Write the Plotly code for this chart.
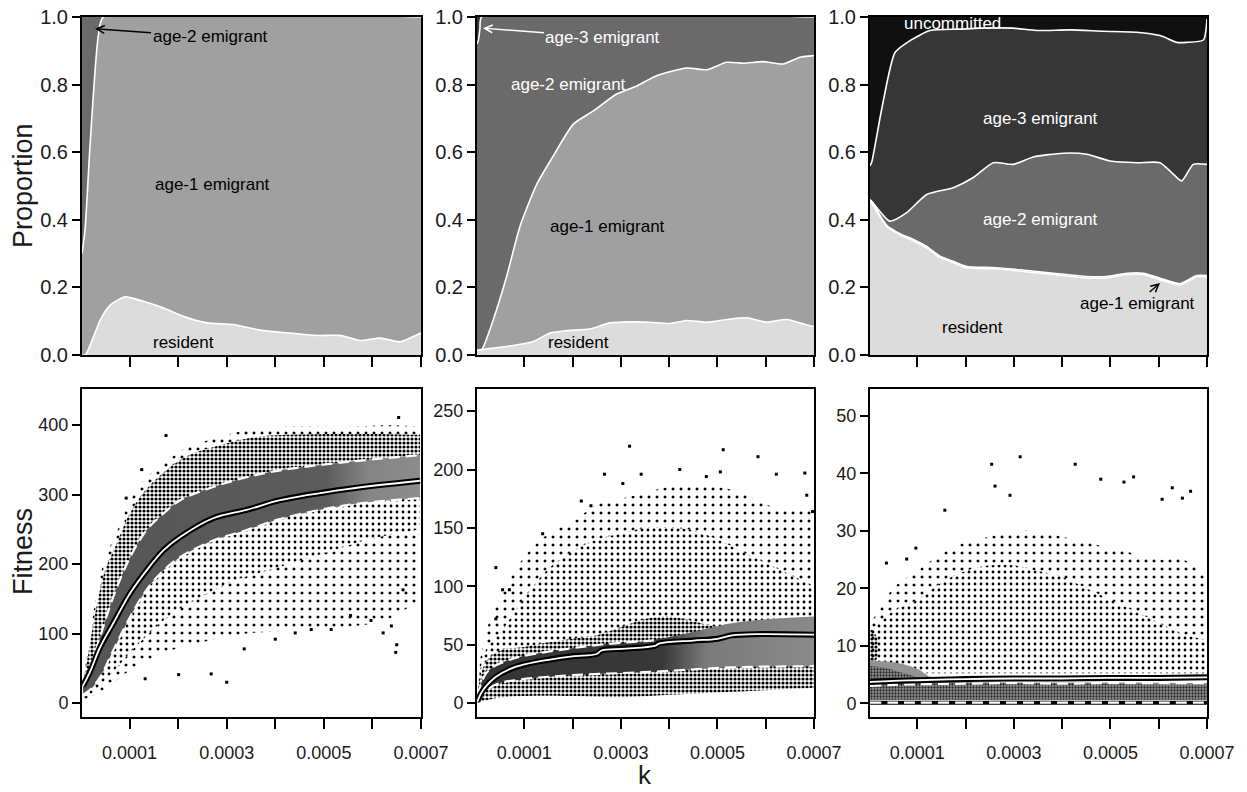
import plotly.graph_objects as go

# ---------------- axes / ticks ----------------
K_MIN, K_MAX = 0.000002, 0.0007
X_TICKS = [0.0001, 0.0002, 0.0003, 0.0004, 0.0005, 0.0006, 0.0007]
X_TICKTEXT = ["0.0001", "", "0.0003", "", "0.0005", "", "0.0007"]
P_TICKS = [0.0, 0.2, 0.4, 0.6, 0.8, 1.0]
P_TICKTEXT = ["0.0", "0.2", "0.4", "0.6", "0.8", "1.0"]
FIT_TICKS_A = [0, 100, 200, 300, 400]
FIT_TICKS_B = [0, 50, 100, 150, 200, 250]
FIT_TICKS_C = [0, 10, 20, 30, 40, 50]

# ---------------- top row: proportions (cumulative upper boundaries) ----------------
# panel A
A_k_resident = [0.000002, 0.000009, 0.00004, 0.000061, 0.000091, 0.000128, 0.00017, 0.000209, 0.00026, 0.000313,
                0.000375, 0.000431, 0.000486, 0.000533, 0.000575, 0.000616, 0.000657, 0.000692, 0.0007]
A_resident_top = [0.0, 0.0, 0.105, 0.149, 0.172, 0.159, 0.139, 0.115, 0.095, 0.090,
                  0.072, 0.065, 0.058, 0.058, 0.043, 0.050, 0.039, 0.060, 0.065]
A_k_age1 = [0.000002, 0.0000082, 0.0000185, 0.0000288, 0.0000356, 0.000046, 0.0007]
A_age1_top = [0.30, 0.37, 0.62, 0.84, 0.945, 1.0, 1.0]

# panel B
B_k_resident = [0.000002, 0.0000117, 0.0000772, 0.0001186, 0.0001532, 0.0001878, 0.000236, 0.0002775, 0.0003189,
                0.0003603, 0.0004017, 0.0004363, 0.0004778, 0.0005192, 0.0005606, 0.000602, 0.0006434, 0.0006952, 0.0007]
B_resident_top = [0.014, 0.016, 0.028, 0.04, 0.065, 0.072, 0.077, 0.095, 0.098,
                  0.097, 0.093, 0.102, 0.097, 0.105, 0.110, 0.097, 0.105, 0.085, 0.085]
B_k_age1 = [0.000002, 0.0000117, 0.0000358, 0.0000635, 0.0000911, 0.0001257, 0.00016, 0.0002015, 0.0002429, 0.0002914,
            0.0003328, 0.0003742, 0.0004363, 0.0004778, 0.0005192, 0.0005536, 0.000595, 0.0006364, 0.000671, 0.0006952, 0.0007]
B_age1_top = [0.014, 0.016, 0.105, 0.233, 0.381, 0.505, 0.589, 0.683, 0.722, 0.772,
              0.796, 0.826, 0.849, 0.844, 0.866, 0.863, 0.868, 0.861, 0.881, 0.885, 0.886]
B_k_age2 = [0.000002, 0.0000047, 0.000008, 0.0000117, 0.0007]
B_age2_top = [0.92, 0.93, 0.965, 1.0, 1.0]

# panel C
C_k_resident = [0.000002, 0.0000055, 0.0000366, 0.0000641, 0.0000917, 0.0001194, 0.000147, 0.0001745, 0.0002023,
                0.0002574, 0.0003127, 0.0003817, 0.0004508, 0.0004922, 0.0005337, 0.0005681, 0.0006027, 0.0006441,
                0.0006787, 0.0007]
C_resident_top = [0.455, 0.45, 0.38, 0.355, 0.338, 0.317, 0.288, 0.273, 0.258,
                  0.255, 0.248, 0.238, 0.228, 0.228, 0.238, 0.238, 0.223, 0.207, 0.231, 0.231]
C_age1_top = [0.457, 0.453, 0.384, 0.359, 0.342, 0.321, 0.292, 0.277, 0.262,
              0.259, 0.252, 0.242, 0.232, 0.232, 0.242, 0.242, 0.227, 0.211, 0.235, 0.235]
C_k_age2 = [0.000002, 0.0000055, 0.0000434, 0.000078, 0.0001194, 0.0001745, 0.000216, 0.0002574, 0.0002988,
            0.0003402, 0.0004024, 0.0004508, 0.0004991, 0.0005544, 0.0006027, 0.0006302, 0.0006476, 0.0006716, 0.0007]
C_age2_top = [0.46, 0.455, 0.396, 0.421, 0.475, 0.495, 0.525, 0.569, 0.564,
              0.586, 0.597, 0.594, 0.574, 0.569, 0.569, 0.535, 0.515, 0.564, 0.564]
C_k_age3 = [0.000002, 0.0000055, 0.0000262, 0.0000538, 0.0000849, 0.0001263, 0.0001884, 0.0002298, 0.0002988,
            0.0003472, 0.0004162, 0.0004852, 0.0005544, 0.0006027, 0.0006373, 0.000658, 0.0006924, 0.0007]
C_age3_top = [0.56, 0.57, 0.727, 0.895, 0.93, 0.96, 0.964, 0.967, 0.967,
              0.96, 0.962, 0.958, 0.955, 0.945, 0.925, 0.925, 0.932, 0.994]

COL_RESIDENT = "#dcdcdc"
COL_AGE1 = "#a0a0a0"
COL_AGE2 = "#6a6a6a"
COL_AGE3 = "#363636"
COL_UNCOMMITTED = "#101010"

# ---------------- bottom row: fitness ----------------
# panel D
D_k = [0.000004, 0.0000185, 0.000039, 0.0000664, 0.000101, 0.000135, 0.00017, 0.000204, 0.000272, 0.000341,
       0.00041, 0.000548, 0.000698]
D_median = [25, 45, 80, 115, 158, 191, 220, 239, 266, 278, 292, 308, 320]
D_q_hi = [30, 52, 95, 153, 210, 249, 273, 292, 311, 325, 335, 347, 357]
D_q_lo = [12, 19, 37, 76, 124, 163, 191, 210, 234, 249, 265, 285, 295]
D_k_env = [0.000004, 0.000012, 0.00003, 0.00005, 0.00007, 0.0001, 0.00013, 0.00017, 0.00022, 0.00028, 0.00035,
           0.00042, 0.00049, 0.00056, 0.00063, 0.000698]
D_cloud_hi = [30, 66, 148, 210, 240, 290, 320, 345, 368, 382, 394, 398, 398, 398, 400, 398]
D_dense_hi = [28, 58, 132, 192, 224, 272, 304, 332, 356, 370, 382, 386, 387, 387, 387, 386]
D_k_lo = [0.000004, 0.00003, 0.000066, 0.0001, 0.00017, 0.00024, 0.00034, 0.00045, 0.00055, 0.00063, 0.000698]
D_cloud_lo = [4, 12, 29, 47, 72, 86, 100, 105, 110, 120, 150]
D_k_mid = [0.000004, 0.00003, 0.00007, 0.0001, 0.00014, 0.00018, 0.00024, 0.00031, 0.00038, 0.00045, 0.00052,
           0.00059, 0.00066, 0.000698]
D_mid_lo = [8, 18, 48, 72, 100, 125, 150, 175, 190, 205, 220, 235, 245, 250]
D_out_k = [0.000175, 0.0003, 0.000268, 0.000201, 0.000132, 0.000654, 0.00065, 0.000648, 0.000622, 0.000597,
           0.000555, 0.0004, 0.000336, 0.000515, 0.000474, 0.000441, 0.000639, 0.000663, 0.000125, 0.000093]
D_out_fit = [385, 30, 42, 41, 35, 411, 84, 73, 101, 119, 126, 92, 78, 106, 106, 101, 111, 163, 336, 295]

# panel E
E_k_med = [0.000003, 0.00001, 0.00002, 0.00004, 0.00007, 0.0001, 0.00015, 0.0002, 0.00025, 0.00026, 0.00031,
           0.00037, 0.00038, 0.00045, 0.0005, 0.00053, 0.00059, 0.0007]
E_median = [1.5, 8, 14, 22, 29, 33, 37, 40, 42, 45, 46.5, 49, 51, 53.5, 55, 58, 59, 58.5]
E_k_qhi = [0.000003, 0.00002, 0.00004, 0.00007, 0.0001, 0.00015, 0.0002, 0.00027, 0.00035, 0.00038]
E_q_hi = [6, 25, 32, 37, 40.5, 44, 47, 50.5, 53, 54]
E_k_qlo = [0.000003, 0.000015, 0.000045, 0.00009, 0.00015, 0.00022, 0.0003, 0.00037, 0.00044, 0.00051, 0.00058, 0.0007]
E_q_lo = [2, 9, 16.5, 20, 22.5, 24.3, 25.6, 26.8, 28.5, 30.2, 31, 31.5]
E_k_band = [0.000003, 0.00002, 0.00004, 0.00007, 0.0001, 0.00015, 0.0002, 0.00027, 0.00035, 0.00038, 0.00044,
            0.00054, 0.0007]
E_band_hi = [6, 25, 32, 37, 40.5, 44, 47, 50.5, 53, 55, 60, 69, 74]
E_k_dlo = [0.000003, 0.00004, 0.0001, 0.0002, 0.0003, 0.0004, 0.0005, 0.0006, 0.0007]
E_dense_lo = [0, 4, 6, 6, 5, 7, 9, 11, 13]
E_k_dhi = [0.000003, 0.00002, 0.00005, 0.0001, 0.00015, 0.0002, 0.00025, 0.0003, 0.00035, 0.0004, 0.00045,
           0.0005, 0.0006, 0.0007]
E_dense_hi = [8, 35, 45, 48, 52, 55, 58, 65, 72, 74, 70, 65, 60, 60]
E_k_env = [0.000003, 0.00002, 0.00005, 0.0001, 0.00015, 0.0002, 0.00025, 0.0003, 0.00035, 0.0004, 0.00045,
           0.0005, 0.00055, 0.0006, 0.00065, 0.0007]
E_cloud_hi = [20, 60, 90, 125, 145, 155, 170, 175, 180, 185, 185, 185, 180, 170, 165, 165]
E_mid_hi = [12, 45, 60, 90, 115, 130, 140, 145, 150, 150, 148, 140, 130, 120, 110, 100]
E_out_k = [0.000318, 0.000512, 0.000584, 0.000422, 0.000266, 0.000342, 0.000506, 0.000622, 0.000681, 0.000304,
           0.000477, 0.000041, 0.000055, 0.000069, 0.000041, 0.000685, 0.000697, 0.000138, 0.000218, 0.000238]
E_out_fit = [220, 217, 211, 200, 196, 196, 198, 196, 197, 188, 194, 116, 97, 97, 72, 178, 164, 145, 173, 169]

# panel F
F_k = [0.000002, 0.00005, 0.0001, 0.0002, 0.0003, 0.0004, 0.0005, 0.0006, 0.0007]
F_median = [3.7, 3.9, 4.0, 4.2, 4.3, 4.3, 4.4, 4.4, 4.5]
F_q_hi = [3.0, 3.2, 3.3, 3.4, 3.5, 3.4, 3.5, 3.5, 3.5]
F_q_lo = [0.1, 0.1, 0.1, 0.1, 0.1, 0.1, 0.1, 0.1, 0.1]
F_k_band = [0.000002, 0.00003, 0.00006, 0.0001, 0.00013, 0.0002, 0.0004, 0.00055, 0.0007]
F_band_hi = [7.5, 7.3, 7.0, 6.0, 4.5, 3.8, 3.6, 3.6, 3.5]
F_band_lo = [0.6, 0.6, 0.6, 0.6, 0.6, 0.6, 0.6, 0.6, 0.6]
F_dense_hi = [6.5, 6.2, 5.5, 4.5, 3.8, 3.6, 3.5, 3.3, 3.2]
F_k_env = [0.000002, 0.00002, 0.00005, 0.0001, 0.00015, 0.0002, 0.00025, 0.0003, 0.00035, 0.0004, 0.00045,
           0.0005, 0.00055, 0.0006, 0.00065, 0.0007]
F_cloud_hi = [14, 16, 20, 23, 26, 28, 29, 30, 30, 29, 28, 27, 26, 25, 25, 22]
F_mid_hi = [12, 14, 16, 18, 21, 23, 24, 24, 23, 22, 20, 18, 16, 14, 12, 11]
F_mid_lo = [5.2, 5.2, 5.2, 5.2, 5.2, 5.2, 5.2, 5.2, 5.2, 5.2, 5.2, 5.2, 5.2, 5.2, 5.2, 5.2]
F_k_clump = [0.000002, 0.00001, 0.000018]
F_clump_lo = [6.5, 7, 8]
F_clump_hi = [13, 12.5, 11]
F_out_k = [0.000254, 0.000313, 0.000427, 0.00048, 0.000528, 0.000548, 0.000628, 0.000666, 0.000261, 0.000292,
           0.000157, 0.000097, 0.000036, 0.000078, 0.000607, 0.000649]
F_out_fit = [41.6, 42.9, 41.6, 39, 38.5, 39.4, 37.5, 36.9, 37.8, 36.2, 33.6, 27, 24.4, 25.1, 35.5, 35.7]

FONT = "Liberation Sans, Arial, sans-serif"
SPARSE = dict(shape=".", size=8, solidity=0.11, fgcolor="black", bgcolor="rgba(0,0,0,0)", fillmode="replace")
MEDIUM = dict(shape=".", size=6, solidity=0.18, fgcolor="black", bgcolor="rgba(0,0,0,0)", fillmode="replace")
DENSE = dict(shape=".", size=4, solidity=0.5, fgcolor="black", bgcolor="rgba(0,0,0,0)", fillmode="replace")
DARKDENSE = dict(shape=".", size=3, solidity=0.45, fgcolor="#262626", bgcolor="rgba(0,0,0,0)", fillmode="replace")

fig = go.Figure()


def line_tr(x, y, xa, ya, **kw):
    d = dict(x=x, y=y, mode="lines", xaxis=xa, yaxis=ya, hoverinfo="skip", showlegend=False)
    d.update(kw)
    fig.add_trace(go.Scatter(**d))


SPL = dict(shape="spline", smoothing=0.6)


def stack_panel(xa, ya, bounds, colors):
    for i, (k, top) in enumerate(bounds):
        line_tr(k, top, xa, ya, line=dict(width=0, **SPL),
                fill="tozeroy" if i == 0 else "tonexty", fillcolor=colors[i])
    line_tr([K_MIN, K_MAX], [1, 1], xa, ya, line=dict(width=0), fill="tonexty", fillcolor=colors[-1])
    for k, top in bounds:
        line_tr(k, top, xa, ya, line=dict(color="white", width=1.6, **SPL))


stack_panel("x", "y", [(A_k_resident, A_resident_top), (A_k_age1, A_age1_top)],
            [COL_RESIDENT, COL_AGE1, COL_AGE2])
stack_panel("x2", "y2", [(B_k_resident, B_resident_top), (B_k_age1, B_age1_top), (B_k_age2, B_age2_top)],
            [COL_RESIDENT, COL_AGE1, COL_AGE2, COL_AGE3])
stack_panel("x3", "y3", [(C_k_resident, C_resident_top), (C_k_resident, C_age1_top), (C_k_age2, C_age2_top),
                         (C_k_age3, C_age3_top)],
            [COL_RESIDENT, COL_AGE1, COL_AGE2, COL_AGE3, COL_UNCOMMITTED])


def region(xa, ya, klo, lo, khi, hi, **fillkw):
    line_tr(klo, lo, xa, ya, line=dict(width=0, shape="spline"))
    line_tr(khi, hi, xa, ya, line=dict(width=0, shape="spline"), fill="tonexty", **fillkw)


def fit_lines(xa, ya, kmed, med, kqhi, qhi, kqlo, qlo, lo_black=False):
    if lo_black:
        line_tr(kqlo, qlo, xa, ya, line=dict(color="black", width=4, shape="spline"))
    line_tr(kqlo, qlo, xa, ya, line=dict(color="white", width=2.2, dash="11px,6px", shape="spline"))
    line_tr(kqhi, qhi, xa, ya, line=dict(color="white", width=2.2, dash="11px,6px", shape="spline"))
    line_tr(kmed, med, xa, ya, line=dict(color="black", width=6, shape="spline"))
    line_tr(kmed, med, xa, ya, line=dict(color="white", width=1.8, shape="spline"))


def outliers(xa, ya, k, f):
    fig.add_trace(go.Scatter(x=k, y=f, mode="markers", xaxis=xa, yaxis=ya, hoverinfo="skip", showlegend=False,
                             marker=dict(color="black", size=3, symbol="square")))


NOFILL = "rgba(0,0,0,0)"
# panel D (non-overlapping density zones)
region("x4", "y4", D_k_env, D_dense_hi, D_k_env, D_cloud_hi, fillcolor=NOFILL, fillpattern=SPARSE)
region("x4", "y4", D_k, D_q_hi, D_k_env, D_dense_hi, fillcolor=NOFILL, fillpattern=DENSE)
region("x4", "y4", D_k_mid, D_mid_lo, D_k, D_q_lo, fillcolor=NOFILL, fillpattern=MEDIUM)
region("x4", "y4", D_k_lo, D_cloud_lo, D_k_mid, D_mid_lo, fillcolor=NOFILL, fillpattern=SPARSE)
region("x4", "y4", D_k, D_q_lo, D_k, D_q_hi, fillcolor="#5a5a5a",
       fillgradient=dict(type="horizontal", colorscale=[[0, "#555555"], [0.72, "#5c5c5c"], [0.85, "#858585"], [1, "#8c8c8c"]]))
fit_lines("x4", "y4", D_k, D_median, D_k, D_q_hi, D_k, D_q_lo)
outliers("x4", "y4", D_out_k, D_out_fit)

# panel E
region("x5", "y5", E_k_env, E_mid_hi, E_k_env, E_cloud_hi, fillcolor=NOFILL, fillpattern=SPARSE)
region("x5", "y5", E_k_dhi, E_dense_hi, E_k_env, E_mid_hi, fillcolor=NOFILL, fillpattern=MEDIUM)
region("x5", "y5", E_k_dlo, E_dense_lo, E_k_dhi, E_dense_hi, fillcolor=NOFILL, fillpattern=DENSE)
region("x5", "y5", E_k_qlo, E_q_lo, E_k_band, E_band_hi, fillcolor="#3a3a3a",
       fillgradient=dict(type="horizontal", colorscale=[[0, "#353535"], [0.55, "#383838"], [0.68, "#7a7a7a"], [1, "#8a8a8a"]]))
fit_lines("x5", "y5", E_k_med, E_median, E_k_qhi, E_q_hi, E_k_qlo, E_q_lo)
outliers("x5", "y5", E_out_k, E_out_fit)

# panel F
region("x6", "y6", F_k_env, F_mid_hi, F_k_env, F_cloud_hi, fillcolor=NOFILL, fillpattern=SPARSE)
region("x6", "y6", F_k_env, F_mid_lo, F_k_env, F_mid_hi, fillcolor=NOFILL, fillpattern=MEDIUM)
region("x6", "y6", F_k_clump, F_clump_lo, F_k_clump, F_clump_hi, fillcolor=NOFILL, fillpattern=DENSE)
region("x6", "y6", F_k_band, F_band_lo, F_k_band, F_band_hi, fillcolor="#939393")
region("x6", "y6", F_k_band, F_band_lo, F_k_band, F_dense_hi, fillcolor=NOFILL, fillpattern=DARKDENSE)
fit_lines("x6", "y6", F_k, F_median, F_k, F_q_hi, F_k, F_q_lo, lo_black=True)
outliers("x6", "y6", F_out_k, F_out_fit)

# ---------------- layout ----------------
W, H = 1247, 792
XDOM = [(82 / W, 421 / W), (477 / W, 814 / W), (870 / W, 1207 / W)]
YDOM_TOP = ((792 - 355) / H, (792 - 17) / H)
YDOM_BOT = ((792 - 717) / H, (792 - 389) / H)

axis_common = dict(showgrid=False, zeroline=False, showline=True, linecolor="black", linewidth=2, mirror=True,
                   ticks="outside", tickwidth=2, tickcolor="black", automargin=False,
                   tickfont=dict(family=FONT, size=18, color="#1a1a1a"))

layout = dict(width=W, height=H, autosize=False, margin=dict(l=0, r=0, t=0, b=0, pad=0),
              paper_bgcolor="white", plot_bgcolor="white", showlegend=False)

y_ranges = [[-20, 452], [-12, 269], [-2.4, 54.7]]
y_ticks = [FIT_TICKS_A, FIT_TICKS_B, FIT_TICKS_C]
for i in range(6):
    n = "" if i == 0 else str(i + 1)
    col = i % 3
    top = i < 3
    xa = dict(axis_common, domain=XDOM[col], range=[K_MIN, K_MAX], tickvals=X_TICKS, ticklen=10,
              anchor="y" + n)
    if top:
        xa.update(showticklabels=False)
    else:
        xa.update(ticktext=X_TICKTEXT, ticklabelstandoff=8)
    ya = dict(axis_common, domain=YDOM_TOP if top else YDOM_BOT, anchor="x" + n, ticklen=8)
    if top:
        ya.update(range=[0, 1], tickvals=P_TICKS, ticktext=P_TICKTEXT,
                  tickfont=dict(family=FONT, size=20, color="#1a1a1a"))
    else:
        ya.update(range=y_ranges[col], tickvals=y_ticks[col])
    layout["xaxis" + n] = xa
    layout["yaxis" + n] = ya

fig.update_layout(**layout)


def label(text, x, y, xref, yref, color="black"):
    fig.add_annotation(text=text, x=x, y=y, xref=xref, yref=yref, showarrow=False,
                       xanchor="center", yanchor="middle",
                       font=dict(family=FONT, size=17, color=color))


def arrow_label(text, x, y, xref, yref, ax, ay, color="black"):
    fig.add_annotation(text=text, x=x, y=y, xref=xref, yref=yref, showarrow=True, ax=ax, ay=ay,
                       arrowhead=5, arrowsize=1.1, arrowwidth=1.4, arrowcolor=color, standoff=0,
                       font=dict(family=FONT, size=17, color=color))


arrow_label("age-2 emigrant", 0.0000288, 0.965, "x", "y", 115, 8)
label("age-1 emigrant", 0.0002717, 0.503, "x", "y")
label("resident", 0.00021, 0.036, "x", "y")

arrow_label("age-3 emigrant", 0.0000144, 0.967, "x2", "y2", 120, 9, color="white")
label("age-2 emigrant", 0.0001905, 0.799, "x2", "y2", color="white")
label("age-1 emigrant", 0.0002733, 0.379, "x2", "y2")
label("resident", 0.0002112, 0.036, "x2", "y2")

label("uncommitted", 0.0001739, 0.982, "x3", "y3", color="white")
label("age-3 emigrant", 0.0003541, 0.701, "x3", "y3", color="white")
label("age-2 emigrant", 0.0003541, 0.402, "x3", "y3", color="white")
arrow_label("age-1 emigrant", 0.0006027, 0.213, "x3", "y3", -23, 20)
label("resident", 0.0002133, 0.080, "x3", "y3")

TITLE_FONT = dict(family=FONT, size=27, color="#1a1a1a")
for txt, px, py, ang in [("Proportion", 23, 186, -90), ("Fitness", 23, 552, -90)]:
    fig.add_annotation(text=txt, x=px / W, y=(H - py) / H, xref="paper", yref="paper", showarrow=False,
                       xanchor="center", yanchor="middle", textangle=ang, font=TITLE_FONT)
fig.add_annotation(text="k", x=645 / W, y=0, xref="paper", yref="paper", showarrow=False,
                   xanchor="center", yanchor="bottom", font=dict(family=FONT, size=26, color="#1a1a1a"))

PIN_PAGE = ("document.documentElement.style.overflow='hidden';"
            "document.body.style.margin='0';document.body.style.padding='0';document.body.style.overflow='hidden';"
            "var gd=document.getElementById('{plot_id}');gd.style.position='fixed';"
            "gd.style.left='0px';gd.style.top='0px';")
fig.write_html("out.html", config={"displayModeBar": False}, post_script=PIN_PAGE)
